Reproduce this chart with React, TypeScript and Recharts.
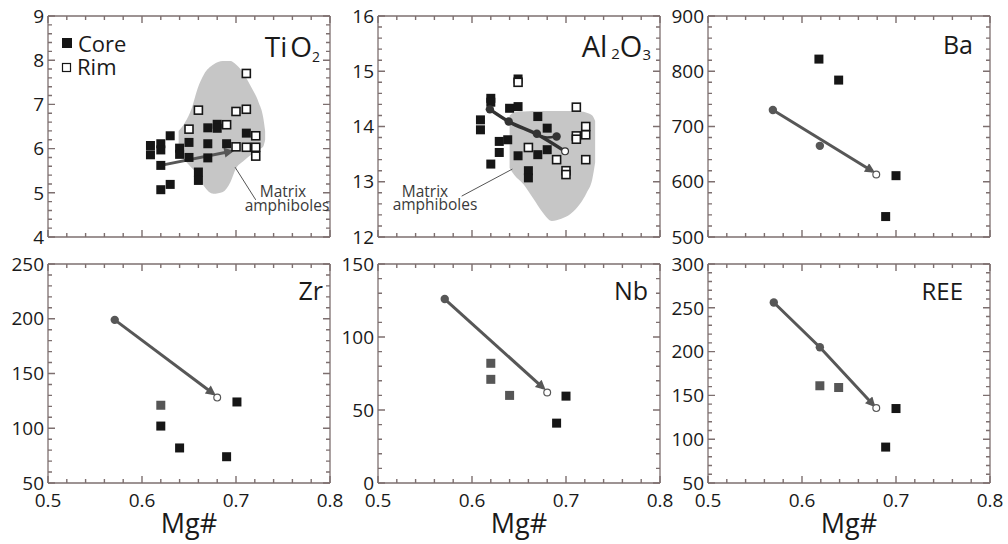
import React from 'react'
import { ComposedChart, XAxis, YAxis, Scatter, Line, Area, ReferenceLine } from 'recharts'

type Pt = { x: number; y: number }
type Band = { x: number; range: [number, number] }

const FONT = '"Open Sans", "Liberation Sans", sans-serif'
const FRAME = '#7d6f6f'
const INK = '#161616'
const GREY_SQ = '#565656'
const ARROW = '#575757'
const BLOB = '#c6c6c6'

const X_DOMAIN: [number, number] = [0.5, 0.8]
const X_TICKS = [0.5, 0.52, 0.54, 0.56, 0.58, 0.6, 0.62, 0.64, 0.66, 0.68, 0.7, 0.72, 0.74, 0.76, 0.78, 0.8]
const LEGEND = ['Core', 'Rim']

// TiO2
const tiCore: Pt[] = [
  { x: 0.609, y: 6.07 }, { x: 0.609, y: 5.86 }, { x: 0.62, y: 6.11 }, { x: 0.62, y: 5.97 },
  { x: 0.62, y: 5.62 }, { x: 0.62, y: 5.07 }, { x: 0.63, y: 6.29 }, { x: 0.63, y: 5.19 },
  { x: 0.64, y: 6.01 }, { x: 0.64, y: 5.87 }, { x: 0.65, y: 6.14 }, { x: 0.65, y: 5.8 },
  { x: 0.66, y: 5.47 }, { x: 0.66, y: 5.28 }, { x: 0.67, y: 6.47 }, { x: 0.67, y: 6.11 },
  { x: 0.67, y: 5.79 }, { x: 0.68, y: 6.55 }, { x: 0.68, y: 6.46 }, { x: 0.69, y: 6.11 },
  { x: 0.711, y: 6.35 },
]
const tiRim: Pt[] = [
  { x: 0.65, y: 6.44 }, { x: 0.66, y: 6.87 }, { x: 0.69, y: 6.54 }, { x: 0.7, y: 6.04 },
  { x: 0.7, y: 6.84 }, { x: 0.711, y: 7.7 }, { x: 0.711, y: 6.89 }, { x: 0.711, y: 6.03 },
  { x: 0.721, y: 6.29 }, { x: 0.721, y: 6.03 }, { x: 0.721, y: 5.83 },
]
const tiMatrix: Band[] = [
  { x: 0.639, range: [5.85, 6.4] }, { x: 0.646, range: [5.72, 6.6] }, { x: 0.653, range: [5.56, 6.92] },
  { x: 0.659, range: [5.42, 7.35] }, { x: 0.666, range: [5.15, 7.68] }, { x: 0.676, range: [4.98, 7.9] },
  { x: 0.686, range: [5.02, 7.98] }, { x: 0.694, range: [5.24, 7.98] }, { x: 0.7, range: [5.55, 7.9] },
  { x: 0.708, range: [5.72, 7.7] }, { x: 0.716, range: [5.86, 7.4] }, { x: 0.724, range: [5.98, 7.05] },
  { x: 0.729, range: [6.05, 6.7] }, { x: 0.731, range: [6.2, 6.4] },
]
const tiArrow: Pt[] = [{ x: 0.62, y: 5.62 }, { x: 0.695, y: 5.94 }]
const tiLeader: Pt[] = [{ x: 0.699, y: 5.58 }, { x: 0.721, y: 4.84 }]

// Al2O3
const alCore: Pt[] = [
  { x: 0.609, y: 14.12 }, { x: 0.609, y: 13.94 }, { x: 0.62, y: 14.51 }, { x: 0.62, y: 14.44 },
  { x: 0.62, y: 13.32 }, { x: 0.629, y: 13.73 }, { x: 0.629, y: 13.53 }, { x: 0.638, y: 13.76 },
  { x: 0.64, y: 14.33 }, { x: 0.649, y: 14.36 }, { x: 0.649, y: 14.86 }, { x: 0.649, y: 13.47 },
  { x: 0.66, y: 13.2 }, { x: 0.66, y: 13.07 }, { x: 0.67, y: 14.18 }, { x: 0.67, y: 13.49 },
  { x: 0.68, y: 13.97 }, { x: 0.68, y: 13.58 },
]
const alRim: Pt[] = [
  { x: 0.649, y: 14.8 }, { x: 0.66, y: 13.62 }, { x: 0.69, y: 13.4 }, { x: 0.7, y: 13.2 },
  { x: 0.7, y: 13.13 }, { x: 0.711, y: 13.83 }, { x: 0.711, y: 13.77 }, { x: 0.711, y: 14.35 },
  { x: 0.721, y: 14.0 }, { x: 0.721, y: 13.85 }, { x: 0.721, y: 13.4 },
]
const alMatrix: Band[] = [
  { x: 0.64, range: [13.25, 14.2] }, { x: 0.645, range: [13.12, 14.26] }, { x: 0.655, range: [12.95, 14.27] },
  { x: 0.665, range: [12.7, 14.28] }, { x: 0.675, range: [12.45, 14.28] }, { x: 0.685, range: [12.29, 14.28] },
  { x: 0.695, range: [12.33, 14.28] }, { x: 0.705, range: [12.42, 14.28] }, { x: 0.715, range: [12.6, 14.27] },
  { x: 0.722, range: [12.8, 14.25] }, { x: 0.728, range: [13.05, 14.2] }, { x: 0.731, range: [13.35, 14.1] },
]
const alPath: Pt[] = [{ x: 0.619, y: 14.31 }, { x: 0.639, y: 14.09 }, { x: 0.669, y: 13.86 }, { x: 0.699, y: 13.55 }]
const alBranch: Pt[] = [{ x: 0.669, y: 13.86 }, { x: 0.68, y: 13.8 }, { x: 0.69, y: 13.82 }]
const alDots: Pt[] = [{ x: 0.619, y: 14.31 }, { x: 0.639, y: 14.09 }, { x: 0.669, y: 13.87 }, { x: 0.69, y: 13.82 }]
const alOpen: Pt[] = [{ x: 0.699, y: 13.55 }]
const alLeader: Pt[] = [{ x: 0.589, y: 12.74 }, { x: 0.643, y: 13.23 }]

// Ba
const baCore: Pt[] = [{ x: 0.618, y: 822 }, { x: 0.639, y: 784 }, { x: 0.7, y: 611 }, { x: 0.689, y: 537 }]
const baArrow: Pt[] = [{ x: 0.569, y: 730 }, { x: 0.675, y: 619 }]
const baDots: Pt[] = [{ x: 0.569, y: 730 }, { x: 0.619, y: 665 }]
const baOpen: Pt[] = [{ x: 0.679, y: 613 }]

// Zr
const zrCore: Pt[] = [{ x: 0.62, y: 102 }, { x: 0.64, y: 82 }, { x: 0.69, y: 74 }, { x: 0.701, y: 124 }]
const zrGrey: Pt[] = [{ x: 0.62, y: 121 }]
const zrArrow: Pt[] = [{ x: 0.571, y: 199 }, { x: 0.676, y: 131.5 }]
const zrDots: Pt[] = [{ x: 0.571, y: 199 }]
const zrOpen: Pt[] = [{ x: 0.68, y: 128 }]

// Nb
const nbCore: Pt[] = [{ x: 0.7, y: 59.5 }, { x: 0.69, y: 41 }]
const nbGrey: Pt[] = [{ x: 0.62, y: 82 }, { x: 0.62, y: 71 }, { x: 0.64, y: 60 }]
const nbArrow: Pt[] = [{ x: 0.571, y: 126 }, { x: 0.676, y: 65 }]
const nbDots: Pt[] = [{ x: 0.571, y: 126 }]
const nbOpen: Pt[] = [{ x: 0.68, y: 62 }]

// REE
const reeCore: Pt[] = [{ x: 0.7, y: 135 }, { x: 0.689, y: 91 }]
const reeGrey: Pt[] = [{ x: 0.619, y: 161 }, { x: 0.639, y: 159 }]
const reeArrow: Pt[] = [{ x: 0.57, y: 256 }, { x: 0.619, y: 205 }, { x: 0.676, y: 139 }]
const reeDots: Pt[] = [{ x: 0.57, y: 256 }, { x: 0.619, y: 205 }]
const reeOpen: Pt[] = [{ x: 0.679, y: 135.5 }]

interface PanelCfg {
  col: number
  row: number
  yDomain: [number, number]
  yStep: number
  yTicks: number[]
  core: Pt[]
  grey?: Pt[]
  rim?: Pt[]
  matrix?: Band[]
  leader?: Pt[]
  arrow?: Pt[]
  path?: Pt[]
  branch?: Pt[]
  dots?: Pt[]
  open?: Pt[]
  arrowColor?: string
}

const PANELS: PanelCfg[] = [
  {
    col: 0, row: 0, yDomain: [4, 9], yStep: 1,
    yTicks: [4, 4.2, 4.4, 4.6, 4.8, 5, 5.2, 5.4, 5.6, 5.8, 6, 6.2, 6.4, 6.6, 6.8, 7, 7.2, 7.4, 7.6, 7.8, 8, 8.2, 8.4, 8.6, 8.8, 9],
    core: tiCore, rim: tiRim, matrix: tiMatrix, leader: tiLeader, arrow: tiArrow,
  },
  {
    col: 1, row: 0, yDomain: [12, 16], yStep: 1,
    yTicks: [12, 12.2, 12.4, 12.6, 12.8, 13, 13.2, 13.4, 13.6, 13.8, 14, 14.2, 14.4, 14.6, 14.8, 15, 15.2, 15.4, 15.6, 15.8, 16],
    core: alCore, rim: alRim, matrix: alMatrix, leader: alLeader, path: alPath, branch: alBranch,
    dots: alDots, open: alOpen, arrowColor: '#333333',
  },
  {
    col: 2, row: 0, yDomain: [500, 900], yStep: 100,
    yTicks: [500, 520, 540, 560, 580, 600, 620, 640, 660, 680, 700, 720, 740, 760, 780, 800, 820, 840, 860, 880, 900],
    core: baCore, arrow: baArrow, dots: baDots, open: baOpen,
  },
  {
    col: 0, row: 1, yDomain: [50, 250], yStep: 50,
    yTicks: [50, 60, 70, 80, 90, 100, 110, 120, 130, 140, 150, 160, 170, 180, 190, 200, 210, 220, 230, 240, 250],
    core: zrCore, grey: zrGrey, arrow: zrArrow, dots: zrDots, open: zrOpen,
  },
  {
    col: 1, row: 1, yDomain: [0, 150], yStep: 50,
    yTicks: [0, 10, 20, 30, 40, 50, 60, 70, 80, 90, 100, 110, 120, 130, 140, 150],
    core: nbCore, grey: nbGrey, arrow: nbArrow, dots: nbDots, open: nbOpen,
  },
  {
    col: 2, row: 1, yDomain: [50, 300], yStep: 50,
    yTicks: [50, 60, 70, 80, 90, 100, 110, 120, 130, 140, 150, 160, 170, 180, 190, 200, 210, 220, 230, 240, 250, 260, 270, 280, 290, 300],
    core: reeCore, grey: reeGrey, arrow: reeArrow, dots: reeDots, open: reeOpen,
  },
]

const square = (fill: string) => (p: any) => (
  <rect x={p.cx - 4.5} y={p.cy - 4.5} width={9} height={9} fill={fill} />
)
const openSquare = (p: any) => (
  <rect x={p.cx - 4} y={p.cy - 4} width={8} height={8} fill="#fff" stroke={INK} strokeWidth={1.6} />
)
const dot = (fill: string) => (p: any) => <circle cx={p.cx} cy={p.cy} r={4.2} fill={fill} />
const openDot = (stroke: string) => (p: any) => (
  <circle cx={p.cx} cy={p.cy} r={3.4} fill="#fff" stroke={stroke} strokeWidth={1.2} />
)

const isMajor = (v: number, step: number) => Math.abs(v / step - Math.round(v / step)) < 1e-6
const frameLine = { stroke: FRAME, strokeWidth: 1.3 }
const labelStyle = { fill: '#1a1a1a', fontSize: 19, fontFamily: FONT }
const X_MARGIN = 11
const Y_MARGIN = 4
const PLOT_W = 282

// inward ticks on bottom + top edges, label under majors
function XTick(props: any) {
  const { payload, plotH, showLabel } = props
  const x = Number(props.x)
  const y = Number(props.y)
  const v = payload.value as number
  const major = isMajor(v, 0.1)
  const len = major ? 7 : 4
  const ay = y - X_MARGIN
  return (
    <g>
      <path d={`M${x},${ay}V${ay - len}M${x},${ay - plotH}V${ay - plotH + len}`} stroke={FRAME} strokeWidth={1.4} fill="none" />
      {showLabel && major && (
        <text x={x} y={y} dy="0.71em" textAnchor="middle" {...labelStyle}>{v.toFixed(1)}</text>
      )}
    </g>
  )
}

// inward ticks on left + right edges, label left of majors
function YTick(props: any) {
  const { payload, step } = props
  const x = Number(props.x)
  const y = Number(props.y)
  const v = payload.value as number
  const major = isMajor(v, step)
  const len = major ? 7 : 4
  const ax = x + Y_MARGIN
  return (
    <g>
      <path d={`M${ax},${y}H${ax + len}M${ax + PLOT_W},${y}H${ax + PLOT_W - len}`} stroke={FRAME} strokeWidth={1.4} fill="none" />
      {major && (
        <text x={x} y={y} dy="0.355em" textAnchor="end" {...labelStyle}>{v}</text>
      )}
    </g>
  )
}

function Panel({ cfg }: { cfg: PanelCfg }) {
  const bottom = cfg.row === 1
  const height = bottom ? 296 : 247
  const axisH = bottom ? 60 : 10
  const top = bottom ? 17 : 16
  const plotH = height - top - axisH
  const color = cfg.arrowColor || ARROW
  const ids = { xAxisId: 'x', yAxisId: 'y' }
  return (
    <div style={{ position: 'absolute', left: cfg.col * 330, top: bottom ? 247 : 0 }}>
      <ComposedChart width={336} height={height} margin={{ top, right: 6, bottom: 0, left: 0 }}>
        <XAxis
          xAxisId="x" dataKey="x" type="number" domain={X_DOMAIN} ticks={X_TICKS} allowDataOverflow interval={0}
          height={axisH} tickLine={false} tickSize={0} tickMargin={X_MARGIN} axisLine={frameLine}
          tick={<XTick plotH={plotH} showLabel={bottom} />}
          label={bottom ? { value: 'Mg#', position: 'insideBottom', offset: 10, fill: '#1a1a1a', fontSize: 27, fontFamily: FONT } : undefined}
        />
        <XAxis xAxisId="xt" type="number" domain={X_DOMAIN} orientation="top" mirror height={1} tick={false} tickLine={false} axisLine={frameLine} />
        <YAxis
          yAxisId="y" dataKey="y" type="number" domain={cfg.yDomain} ticks={cfg.yTicks} allowDataOverflow interval={0}
          width={48} tickLine={false} tickSize={0} tickMargin={Y_MARGIN} axisLine={frameLine}
          tick={<YTick step={cfg.yStep} />}
        />
        <YAxis yAxisId="yr" type="number" domain={cfg.yDomain} orientation="right" mirror width={1} tick={false} tickLine={false} axisLine={frameLine} />

        {cfg.matrix && (
          <Area {...ids} data={cfg.matrix} dataKey="range" type="monotone" stroke="none" fill={BLOB} fillOpacity={1} dot={false} activeDot={false} isAnimationActive={false} />
        )}
        {cfg.leader && (
          <ReferenceLine {...ids} segment={cfg.leader} stroke="#555" strokeWidth={1} ifOverflow="visible" />
        )}
        <Scatter {...ids} name={LEGEND[0]} data={cfg.core} dataKey="y" shape={square(INK)} isAnimationActive={false} />
        {cfg.grey && <Scatter {...ids} data={cfg.grey} dataKey="y" shape={square(GREY_SQ)} isAnimationActive={false} />}
        {cfg.rim && <Scatter {...ids} name={LEGEND[1]} data={cfg.rim} dataKey="y" shape={openSquare} isAnimationActive={false} />}
        {cfg.arrow && (
          <Line {...ids} data={cfg.arrow} dataKey="y" type="linear" stroke={color} strokeWidth={3} dot={false} activeDot={false} markerEnd="url(#arrowhead)" isAnimationActive={false} />
        )}
        {cfg.path && (
          <Line {...ids} data={cfg.path} dataKey="y" type="monotone" stroke={color} strokeWidth={3.5} dot={false} activeDot={false} isAnimationActive={false} />
        )}
        {cfg.branch && (
          <Line {...ids} data={cfg.branch} dataKey="y" type="monotone" stroke={color} strokeWidth={2.5} dot={false} activeDot={false} isAnimationActive={false} />
        )}
        {cfg.dots && <Scatter {...ids} data={cfg.dots} dataKey="y" shape={dot(color)} isAnimationActive={false} />}
        {cfg.open && <Scatter {...ids} data={cfg.open} dataKey="y" shape={openDot(color)} isAnimationActive={false} />}
      </ComposedChart>
    </div>
  )
}

export default function App() {
  const txt = { fontFamily: FONT, fill: '#1a1a1a' }
  const note = { fontFamily: FONT, fill: '#3a3a3a', fontSize: 15.5 }
  return (
    <div style={{ position: 'absolute', left: 0, top: 0, width: 1008, height: 544, background: '#fff', overflow: 'hidden' }}>
      <style>{'.recharts-surface{overflow:visible}'}</style>
      <svg width={0} height={0} style={{ position: 'absolute' }}>
        <defs>
          <marker id="arrowhead" viewBox="0 0 10 10" refX={7} refY={5} markerWidth={12} markerHeight={10} markerUnits="userSpaceOnUse" orient="auto">
            <path d="M0,0 L10,5 L0,10 z" fill={ARROW} />
          </marker>
        </defs>
      </svg>
      {PANELS.map((cfg, i) => (
        <Panel key={i} cfg={cfg} />
      ))}
      <svg width={1008} height={544} style={{ position: 'absolute', left: 0, top: 0, pointerEvents: 'none' }}>
        {/* legend */}
        <rect x={62} y={38} width={10} height={10} fill={INK} />
        <text x={78} y={52} fontSize={22} {...txt}>{LEGEND[0]}</text>
        <rect x={62.5} y={63.5} width={8} height={8} fill="#fff" stroke={INK} strokeWidth={1.2} />
        <text x={77} y={75} fontSize={22} {...txt}>{LEGEND[1]}</text>

        {/* panel titles */}
        <text x={320} y={57} textAnchor="end" fontSize={28} {...txt}>
          Ti<tspan dx={3}>O</tspan><tspan fontSize={14} dy={5}>2</tspan>
        </text>
        <text x={651} y={57} textAnchor="end" fontSize={29} {...txt}>
          Al<tspan fontSize={15} dy={2}> 2</tspan>
          <tspan dy={-2}>O</tspan>
          <tspan fontSize={15} dy={3}>3</tspan>
        </text>
        <text x={973} y={54} textAnchor="end" fontSize={25} {...txt}>Ba</text>
        <text x={323} y={300} textAnchor="end" fontSize={25} {...txt}>Zr</text>
        <text x={648} y={300} textAnchor="end" fontSize={25} {...txt}>Nb</text>
        <text x={963} y={300} textAnchor="end" fontSize={24} {...txt}>REE</text>

        {/* matrix notes */}
        <text x={283} y={197} textAnchor="middle" {...note}>Matrix</text>
        <text x={287} y={211} textAnchor="middle" {...note}>amphiboles</text>
        <text x={425} y={197} textAnchor="middle" {...note}>Matrix</text>
        <text x={435} y={210} textAnchor="middle" {...note}>amphiboles</text>
      </svg>
    </div>
  )
}
